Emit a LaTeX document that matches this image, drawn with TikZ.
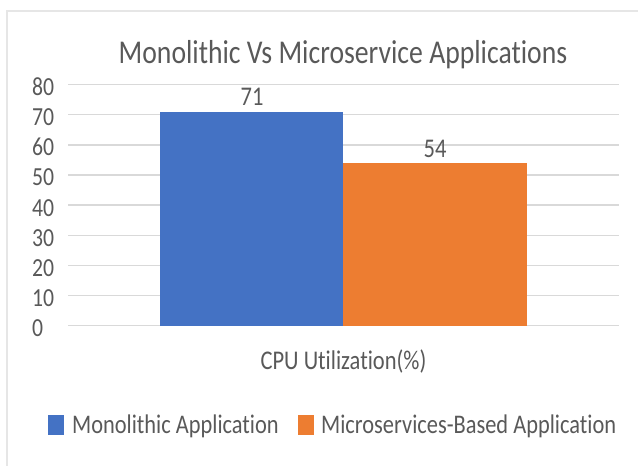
\documentclass[tikz,border=0pt]{standalone}
\usepackage{fontspec}
\setmainfont{Carlito}[Ligatures=CommonOff]
\usetikzlibrary{positioning}
\definecolor{monoblue}{HTML}{4472C4}
\definecolor{microorange}{HTML}{ED7D31}
\definecolor{labelgray}{HTML}{595959}
\definecolor{gridgray}{HTML}{D9D9D9}
\definecolor{framegray}{HTML}{E6E6E6}
\newcommand{\tall}[1]{\scalebox{1}[1.2]{#1}}

\begin{document}
\begin{tikzpicture}[x=1pt, y=-1pt,
    every node/.style={inner sep=0pt, text=labelgray},
    ticklabel/.style={anchor=base west, font=\fontsize{21.7}{26}\selectfont},
    barlabel/.style={anchor=base, font=\fontsize{22.5}{27}\selectfont},
    legendtext/.style={anchor=base west, font=\fontsize{22.4}{27}\selectfont},
    legendkey/.style={minimum width=16pt, minimum height=20pt},
    gridline/.style={gridgray, line width=1.5pt}
]
\useasboundingbox (0,0) rectangle (638,466);
\draw[framegray, line width=2pt] (7.3,466) -- (7.3,11) -- (638,11);
\node[anchor=base, font=\fontsize{27.7}{33}\selectfont] (title) at (343,63.3) {\tall{Monolithic Vs Microservice Applications}};
% grid and y axis
\foreach \v in {0,10,...,80} {
    \draw[gridline] (68,325.7-3.015*\v) -- (619,325.7-3.015*\v);
    \node[ticklabel] (tick\v) at (32,336.7-3.015*\v) {\tall{\v}};
}
% bars
\fill[monoblue] (160,325.7) rectangle (343,111.6);
\fill[microorange] (343,325.7) rectangle (527,162.8);
\node[barlabel] (val71) at (252,105) {\tall{71}};
\node[barlabel] (val54) at (435,157) {\tall{54}};
\node[barlabel] (xlabel) at (343.5,369.5) {\tall{CPU Utilization(\%)}};
% legend
\node[legendkey, fill=monoblue] (keymono) at (56,425) {};
\node[legendtext] (txtmono) at (72,433) {\tall{Monolithic Application}};
\node[legendkey, fill=microorange] (keymicro) at (306,425) {};
\node[legendtext] (txtmicro) at (321,433) {\tall{Microservices-Based Application}};
\end{tikzpicture}
\end{document}
